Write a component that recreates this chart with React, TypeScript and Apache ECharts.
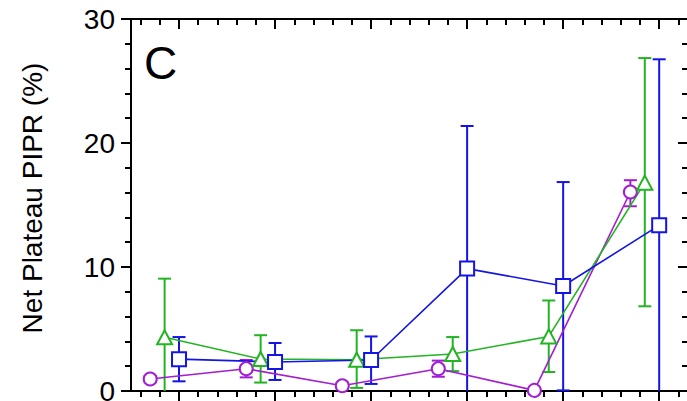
import React, { useEffect, useRef } from "react";
import * as echarts from "echarts";

// ---- axis ticks ----
const xMajorTicks = [1, 2, 3, 4, 5, 6];
const xMinorTicks = [
  0.6, 0.8, 1.2, 1.4, 1.6, 1.8, 2.2, 2.4, 2.6, 2.8, 3.2, 3.4, 3.6, 3.8,
  4.2, 4.4, 4.6, 4.8, 5.2, 5.4, 5.6, 5.8, 6.2,
];
const yTickLabels = [0, 10, 20, 30];

// ---- purple circles ----
const purpleX = [0.7, 1.7, 2.7, 3.7, 4.7, 5.7];
const purpleMean = [0.97, 1.8, 0.42, 1.8, 0.05, 16.05];
const purpleLow = [0.7, 1.1, 0.2, 1.15, 0.0, 14.9];
const purpleHigh = [1.2, 2.5, 0.65, 2.45, 0.1, 17.0];

// ---- green triangles ----
const greenX = [0.85, 1.85, 2.85, 3.85, 4.85, 5.85];
const greenMean = [4.33, 2.58, 2.52, 2.98, 4.4, 16.8];
const greenLow = [-0.5, 0.68, 0.25, 1.6, 1.53, 6.83];
const greenHigh = [9.06, 4.5, 4.9, 4.35, 7.3, 26.85];

// ---- blue squares ----
const blueX = [1, 2, 3, 4, 5, 6];
const blueMean = [2.57, 2.34, 2.5, 9.87, 8.47, 13.36];
const blueLow = [0.78, 0.89, 0.57, -1, 0.05, -1];
const blueHigh = [4.35, 3.87, 4.4, 21.37, 16.85, 26.75];

const PURPLE = "#A31ED2";
const GREEN = "#22B422";
const BLUE = "#1414E6";
const FONT = "'Liberation Sans', Arial, sans-serif";
const TICK = "#000";

function errorSeries(xs: number[], lows: number[], highs: number[], color: string) {
  return {
    type: "custom",
    z: 1,
    silent: true,
    encode: { x: 0, y: [1, 2] },
    data: xs.map((x, i) => [x, lows[i], highs[i]]),
    renderItem: (params: any, api: any) => {
      const x = api.value(0);
      const lo = api.value(1);
      const hi = api.value(2);
      const clipped = lo < 0;
      const top = api.coord([x, hi]);
      const bot = api.coord([x, Math.max(lo, 0)]);
      const hw = 6.5;
      const style = { stroke: color, lineWidth: 2, fill: "none" };
      const children: any[] = [
        { type: "line", shape: { x1: top[0], y1: top[1], x2: bot[0], y2: bot[1] }, style },
        { type: "line", shape: { x1: top[0] - hw, y1: top[1], x2: top[0] + hw, y2: top[1] }, style },
      ];
      if (!clipped) {
        children.push({
          type: "line",
          shape: { x1: bot[0] - hw, y1: bot[1], x2: bot[0] + hw, y2: bot[1] },
          style,
        });
      }
      return { type: "group", children };
    },
  };
}

function lineSeries(xs: number[], ys: number[], color: string, symbol: string, size: any) {
  return {
    type: "line",
    z: 3,
    data: xs.map((x, i) => [x, ys[i]]),
    symbol,
    symbolSize: size,
    showSymbol: true,
    lineStyle: { color, width: 1.6 },
    itemStyle: { color: "#fff", borderColor: color, borderWidth: 2 },
    emphasis: { disabled: true },
    silent: true,
  };
}

function xAxisDef(position: string, ticks: number[], len: number, inside: boolean) {
  return {
    type: "value",
    min: 0.5,
    max: 6.3,
    position,
    axisLine: { show: true, onZero: false, lineStyle: { color: "#000", width: 2 } },
    axisTick: {
      show: true,
      customValues: ticks,
      length: len,
      inside,
      lineStyle: { color: TICK, width: 2 },
    },
    axisLabel: { show: false },
    splitLine: { show: false },
  };
}

export default function App() {
  const ref = useRef<HTMLDivElement>(null);
  useEffect(() => {
    if (!ref.current) return;
    const chart = echarts.init(ref.current, undefined, { renderer: "svg" });
    const option: any = {
      animation: false,
      backgroundColor: "#fff",
      grid: { left: 131, top: 19, width: 557, height: 372, outerBoundsMode: "none" },
      xAxis: [
        xAxisDef("bottom", xMajorTicks, 10, false),
        xAxisDef("bottom", xMinorTicks, 6, false),
        xAxisDef("top", xMajorTicks, 10, true),
        xAxisDef("top", xMinorTicks, 6, true),
      ],
      yAxis: [
        {
          type: "value",
          min: yTickLabels[0],
          max: yTickLabels[yTickLabels.length - 1],
          interval: 10,
          position: "left",
          axisLine: { show: true, onZero: false, lineStyle: { color: "#000", width: 2 } },
          axisTick: { show: true, length: 10, lineStyle: { color: TICK, width: 2 } },
          minorTick: { show: true, splitNumber: 5, length: 6, lineStyle: { color: TICK, width: 2 } },
          axisLabel: { fontSize: 28, color: "#000", margin: 16, fontFamily: FONT },
          splitLine: { show: false },
        },
        {
          type: "value",
          min: yTickLabels[0],
          max: yTickLabels[yTickLabels.length - 1],
          interval: 10,
          position: "right",
          axisLine: { show: true, onZero: false, lineStyle: { color: "#000", width: 2 } },
          axisTick: { show: true, inside: true, length: 10, lineStyle: { color: TICK, width: 2 } },
          minorTick: { show: true, splitNumber: 5, length: 6, lineStyle: { color: TICK, width: 2 } },
          axisLabel: { show: false },
          splitLine: { show: false },
        },
      ],
      graphic: [
        {
          type: "text",
          x: 144,
          y: 63,
          style: {
            text: "C",
            fontSize: 46,
            fontFamily: FONT,
            fill: "#000",
            textAlign: "left",
            textVerticalAlign: "middle",
          },
        },
        {
          type: "text",
          x: 32,
          y: 198,
          rotation: Math.PI / 2,
          style: {
            text: "Net Plateau PIPR (%)",
            fontSize: 28,
            fontFamily: FONT,
            fill: "#000",
            textAlign: "center",
            textVerticalAlign: "middle",
          },
        },
      ],
      series: [
        errorSeries(purpleX, purpleLow, purpleHigh, PURPLE),
        errorSeries(greenX, greenLow, greenHigh, GREEN),
        errorSeries(blueX, blueLow, blueHigh, BLUE),
        lineSeries(purpleX, purpleMean, PURPLE, "circle", 13),
        lineSeries(greenX, greenMean, GREEN, "triangle", [15, 14]),
        lineSeries(blueX, blueMean, BLUE, "rect", 14),
      ],
    };
    chart.setOption(option);
    return () => chart.dispose();
  }, []);
  return (
    <div
      ref={ref}
      style={{ position: "absolute", left: 0, top: 0, width: 687, height: 401 }}
    />
  );
}
